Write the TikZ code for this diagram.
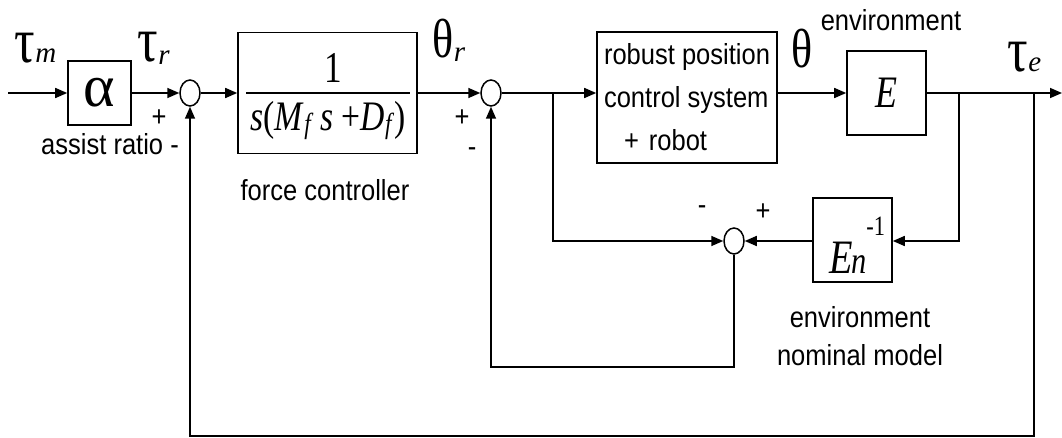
\documentclass[tikz,border=0pt]{standalone}
\usepackage{fontspec}
\setmainfont{Liberation Sans}[FakeStretch=0.88]
\newfontfamily\tms{Liberation Serif}
\newfontfamily\tmsn{Liberation Serif}[FakeStretch=0.8]
\usetikzlibrary{arrows.meta,shapes.geometric}
\newcommand{\fs}[1]{\fontsize{#1}{#1}\selectfont}
\begin{document}
\begin{tikzpicture}[x=1pt,y=-1pt,
  line width=1.6pt,
  blk/.style={draw, line width=1.6pt, inner sep=0pt},
  sumc/.style={draw, ellipse, minimum width=20pt, minimum height=26pt, inner sep=0pt, line width=1.5pt},
  arr/.style={-{Triangle[length=12pt,width=10pt]}},
  lbl/.style={font=\fs{29}, inner sep=0pt},
  sym/.style={inner sep=0pt, anchor=base west}
]
\useasboundingbox (0,0) rectangle (1062,438);

% blocks
\node[blk, minimum width=63pt, minimum height=64pt] (alpha) at (99.5,93) {\tms\fs{60}α};
\node[sumc] (s1) at (190,93) {};
\node[blk, minimum width=179pt, minimum height=121pt] (fc) at (327.5,93) {};
\node[inner sep=0pt] (num) at (333,68) {\tmsn\fs{44}1};
\node[inner sep=0pt] (den) at (328,121) {\tmsn\fs{42}\textit{s}(\textit{M}\raisebox{-3pt}{\fs{29}\textit{f}}\,\textit{s} +\textit{D}\raisebox{-3pt}{\fs{29}\textit{f}})};
\draw[line width=1.5pt] ([xshift=9pt]fc.west) -- ([xshift=-8pt]fc.east);

\node[sumc] (s2) at (491,93) {};
\coordinate (b1) at (553,93);
\node[blk, minimum width=180pt, minimum height=131pt, align=left, font=\fontsize{29}{43}\selectfont] (rob) at (687,97.5)
  {robust position\\control system\\\hspace{20pt}+\hspace{10pt}robot};
\node[blk, minimum width=79pt, minimum height=84pt] (E) at (886.5,93) {\tmsn\itshape\fs{45}E};
\coordinate (b2) at (959,93);
\coordinate (b3) at (1034,93);
\coordinate (out) at (1062,93);
\coordinate (in) at (8,93);

\node[sumc] (s3) at (734,241) {};
\node[blk, minimum width=79pt, minimum height=84pt] (En) at (852.5,240) {};
\node[sym] (Enl) at (829,273) {{\tmsn\itshape\fs{48}E}\kern-2pt{\tmsn\itshape\fs{38}n}\raisebox{38pt}{\tmsn\fs{28}-1}};

\coordinate (c1) at (734,367);
\coordinate (c2) at (491,367);
\coordinate (c3) at (1034,436);
\coordinate (c4) at (190,436);

% connectors
\draw[arr] (in) -- (alpha);
\draw[arr] (alpha) -- (s1);
\draw[arr] (s1) -- (fc);
\draw[arr] (fc.east) -- (s2.west);
\draw (s2.east) -- (b1);
\draw[arr] (b1) -- (b1 -| rob.west);
\draw[arr] (rob.east |- b1) -- (E.west);
\draw (E.east) -- (b2) -- (b3);
\draw[arr] (b3) -- (out);
\draw[arr] (b2) |- (En.east |- s3);
\draw[arr] (En.west |- s3) -- (s3.east);
\draw[arr] (b1) |- (s3.west);
\draw[arr] (s3.south) -- (c1) -- (c2) -- (s2.south);
\draw[arr] (b3) -- (c3) -- (c4) -- (s1.south);

% labels
\node[sym] (taum) at (14,63) {\tmsn\fs{64}τ{\tms\itshape\fs{29}m}};
\node[sym] (taur) at (137,62) {\tmsn\fs{64}τ\raisebox{-3pt}{\tms\itshape\fs{29}r}};
\node[lbl] (p1) at (159,118) {+};
\node[lbl] (ar) at (110,144) {assist ratio -};
\node[lbl] (fcl) at (325,190) {force controller};
\node[sym] (thr) at (432,58) {\tmsn\fs{55}θ\raisebox{-4pt}{\tms\itshape\fs{29}r}};
\node[lbl] (p2) at (462,118) {+};
\node[lbl] (m2) at (472,152) {-};
\node[sym] (th) at (791,68) {\tmsn\fs{55}θ};
\node[lbl] (env) at (891,20) {environment};
\node[sym] (taue) at (1007,72) {\tmsn\fs{64}τ{\tms\itshape\fs{29}e}};
\node[lbl] (m3) at (702,210) {-};
\node[lbl] (p3) at (763,212) {+};
\node[lbl, align=center, font=\fontsize{29}{38}\selectfont] (envn) at (860,336) {environment\\nominal model};
\end{tikzpicture}
\end{document}
